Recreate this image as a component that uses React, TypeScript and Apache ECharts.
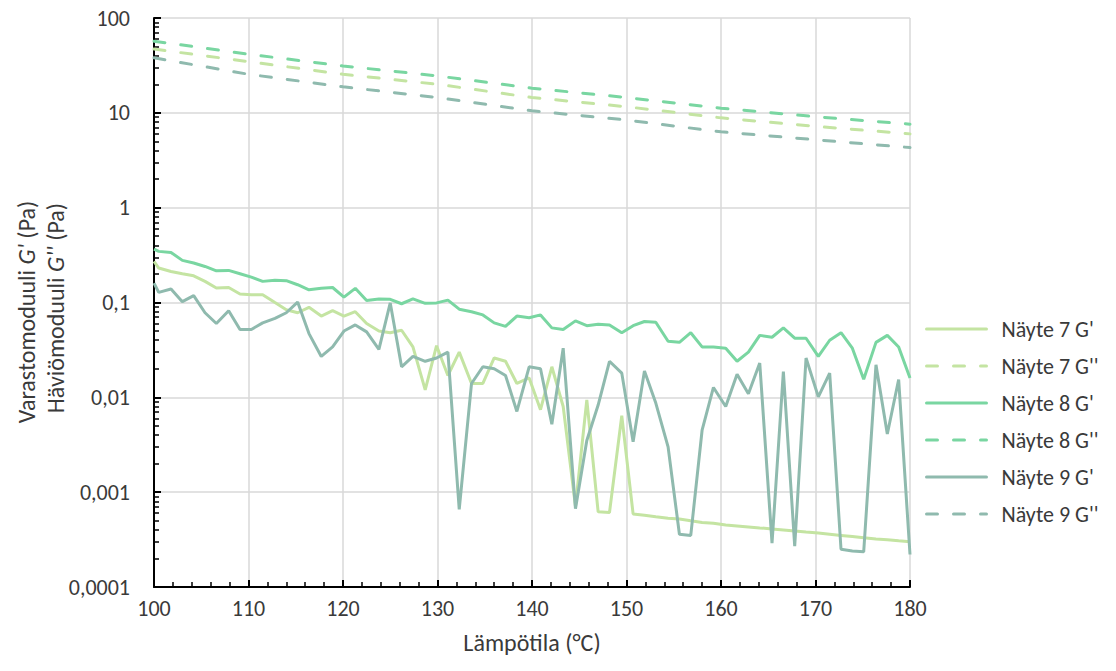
import React, { useEffect, useRef } from 'react';
import * as echarts from 'echarts';

// Temperature (°C) for the G' measurements
const temps = [
  100, 100.5, 101.8, 103.0, 104.2, 105.4, 106.6, 107.9, 109.1, 110.3,
  111.5, 112.8, 114.0, 115.2, 116.4, 117.7, 118.9, 120.1, 121.3, 122.5,
  123.8, 125.0, 126.2, 127.4, 128.7, 129.9, 131.1, 132.3, 133.6, 134.8,
  136.0, 137.2, 138.4, 139.7, 140.9, 142.1, 143.3, 144.6, 145.8, 147.0,
  148.2, 149.5, 150.7, 151.9, 153.1, 154.4, 155.6, 156.8, 158.0, 159.2,
  160.5, 161.7, 162.9, 164.1, 165.4, 166.6, 167.8, 169.0, 170.3, 171.5,
  172.7, 173.9, 175.1, 176.4, 177.6, 178.8, 180.0,
];

const n7G1 = [
  0.271, 0.231, 0.212, 0.201, 0.191, 0.167, 0.142, 0.144, 0.123, 0.121,
  0.121, 0.100, 0.084, 0.078, 0.089, 0.072, 0.082, 0.072, 0.080, 0.060,
  0.050, 0.048, 0.051, 0.034, 0.012, 0.035, 0.017, 0.030, 0.014, 0.014,
  0.026, 0.024, 0.014, 0.016, 0.0074, 0.021, 0.0080, 0.00071, 0.0094, 0.00062,
  0.00061, 0.0064, 0.00059, 0.00057, 0.00055, 0.00053, 0.00052, 0.00050, 0.00048, 0.00047,
  0.00045, 0.00044, 0.00043, 0.00042, 0.00041, 0.00040, 0.00039, 0.00038, 0.00037, 0.00036,
  0.00035, 0.00034, 0.00033, 0.00032, 0.000315, 0.000307, 0.0003,
];

const n8G1 = [
  0.366, 0.346, 0.337, 0.278, 0.261, 0.240, 0.216, 0.218, 0.201, 0.185,
  0.167, 0.172, 0.170, 0.154, 0.136, 0.141, 0.144, 0.114, 0.141, 0.105,
  0.109, 0.108, 0.097, 0.109, 0.098, 0.099, 0.106, 0.085, 0.080, 0.074,
  0.061, 0.056, 0.072, 0.069, 0.074, 0.054, 0.052, 0.064, 0.057, 0.059,
  0.058, 0.048, 0.057, 0.063, 0.062, 0.039, 0.038, 0.048, 0.034, 0.034,
  0.033, 0.024, 0.030, 0.045, 0.043, 0.054, 0.042, 0.042, 0.027, 0.040,
  0.048, 0.033, 0.0155, 0.038, 0.045, 0.034, 0.016,
];

const n9G1 = [
  0.160, 0.128, 0.139, 0.102, 0.118, 0.078, 0.060, 0.082, 0.052, 0.052,
  0.061, 0.068, 0.078, 0.101, 0.047, 0.027, 0.034, 0.050, 0.058, 0.049,
  0.032, 0.099, 0.021, 0.027, 0.024, 0.026, 0.030, 0.00066, 0.014, 0.021,
  0.020, 0.017, 0.0071, 0.021, 0.020, 0.0052, 0.033, 0.00067, 0.0035, 0.0083,
  0.024, 0.018, 0.0034, 0.019, 0.0087, 0.0030, 0.00036, 0.00035, 0.0045, 0.0127,
  0.0080, 0.0175, 0.0109, 0.023, 0.00029, 0.0187, 0.00027, 0.026, 0.0101, 0.018,
  0.00025, 0.00024, 0.000235, 0.022, 0.0041, 0.0154, 0.00022,
];

// Temperature (°C) for the G'' readings
const gTemps = [100, 110, 120, 130, 140, 150, 160, 170, 180];
const n7G2 = [47, 34.7, 25.5, 20, 14.5, 11.6, 8.85, 7.2, 6.0];
const n8G2 = [57, 41.5, 31.2, 24.5, 18.2, 14.5, 11.2, 9.1, 7.6];
const n9G2 = [38, 25.5, 18.8, 14.5, 10.5, 8.4, 6.3, 5.2, 4.3];

const seriesNames = ["Näyte 7 G'", "Näyte 7 G''", "Näyte 8 G'", "Näyte 8 G''", "Näyte 9 G'", "Näyte 9 G''"];
const yTickLabels = ['0,0001', '0,001', '0,01', '0,1', '1', '10', '100'];
const xTitle = 'Lämpötila (°C)';

const FONT = 'Calibri, Carlito, Lato, "Open Sans", sans-serif';
const TXT = '#3a3a3a';
const C7 = '#c4e4a2';
const C8 = '#79d6a1';
const C9 = '#8fbaae';

function pairs(xs: number[], ys: number[]) {
  return ys.map((v, i) => [xs[i], v]);
}

export default function App() {
  const ref = useRef<HTMLDivElement>(null);
  useEffect(() => {
    if (!ref.current) return;
    const chart = echarts.init(ref.current, undefined, { renderer: 'svg' });
    const minorVals: number[] = [];
    for (let e = -4; e < 2; e++) {
      for (let m = 2; m <= 9; m++) minorVals.push(m * Math.pow(10, e));
    }
    const solid = (name: string, color: string, data: number[][]) => ({
      name, type: 'line', data, showSymbol: false, symbol: 'none',
      lineStyle: { color, width: 3 }, itemStyle: { color }, clip: true,
    });
    const dashed = (name: string, color: string, data: number[][]) => ({
      name, type: 'line', data, showSymbol: false, symbol: 'none',
      lineStyle: { color, width: 3, type: [11, 16], cap: 'round' }, itemStyle: { color }, clip: true,
    });
    const rich = {
      a: { fontSize: 24, fill: TXT, fontFamily: FONT },
      i: { fontSize: 24, fill: TXT, fontFamily: FONT, fontStyle: 'italic' },
    };
    chart.setOption({
      animation: false,
      grid: { left: 154, top: 18, width: 756, height: 569, containLabel: false },
      xAxis: {
        type: 'value', min: 100, max: 180, interval: 10,
        name: xTitle, nameLocation: 'middle', nameGap: 43,
        nameTextStyle: { fontSize: 24, color: TXT, fontFamily: FONT },
        axisLine: { lineStyle: { color: '#000', width: 2 } },
        axisTick: { inside: true, length: 7, lineStyle: { color: '#000', width: 2 } },
        minorTick: { show: true, splitNumber: 5, length: 5, lineStyle: { color: '#000', width: 1.5 } },
        axisLabel: { fontSize: 22, color: TXT, fontFamily: FONT, margin: 10 },
        splitLine: { show: true, lineStyle: { color: '#d9d9d9', width: 1.5 } },
      },
      yAxis: [
        {
          type: 'log', logBase: 10, min: 0.0001, max: 100, splitNumber: 6,
          axisLine: { show: true, lineStyle: { color: '#000', width: 2 } },
          axisTick: { show: true, inside: true, length: 7, lineStyle: { color: '#000', width: 2 } },
          axisLabel: {
            fontSize: 22, color: TXT, fontFamily: FONT, margin: 24,
            formatter: (v: number) => yTickLabels[Math.round(Math.log10(v)) + 4] ?? '',
          },
          splitLine: { show: true, lineStyle: { color: '#d9d9d9', width: 1.5 } },
        },
        {
          type: 'log', logBase: 10, min: 0.0001, max: 100, position: 'left',
          axisLine: { show: false },
          axisLabel: { show: false },
          splitLine: { show: false },
          axisTick: { show: true, inside: true, length: 5, customValues: minorVals, lineStyle: { color: '#000', width: 1.5 } },
        },
      ],
      legend: {
        orient: 'vertical', left: 925, top: 318, padding: 0,
        itemWidth: 60, itemHeight: 14, itemGap: 15,
        data: seriesNames,
        itemStyle: { opacity: 0 },
        lineStyle: { width: 3, cap: 'round' },
        textStyle: { fontSize: 22, color: TXT, fontFamily: FONT, padding: [0, 0, 0, 10] },
      },
      graphic: [
        {
          type: 'text', x: 26, y: 312, rotation: Math.PI / 2,
          style: {
            text: "{a|Varastomoduuli }{i|G'}{a| (Pa)}",
            align: 'center', verticalAlign: 'middle', rich,
          },
        },
        {
          type: 'text', x: 55, y: 308, rotation: Math.PI / 2,
          style: {
            text: "{a|Häviömoduuli }{i|G''}{a| (Pa)}",
            align: 'center', verticalAlign: 'middle', rich,
          },
        },
      ],
      series: [
        solid(seriesNames[0], C7, pairs(temps, n7G1)),
        dashed(seriesNames[1], C7, pairs(gTemps, n7G2)),
        solid(seriesNames[2], C8, pairs(temps, n8G1)),
        dashed(seriesNames[3], C8, pairs(gTemps, n8G2)),
        solid(seriesNames[4], C9, pairs(temps, n9G1)),
        dashed(seriesNames[5], C9, pairs(gTemps, n9G2)),
      ],
    });
    return () => chart.dispose();
  }, []);
  return (
    <div
      ref={ref}
      style={{ position: 'fixed', left: 0, top: 0, width: 1116, height: 671, background: '#fff' }}
    />
  );
}
